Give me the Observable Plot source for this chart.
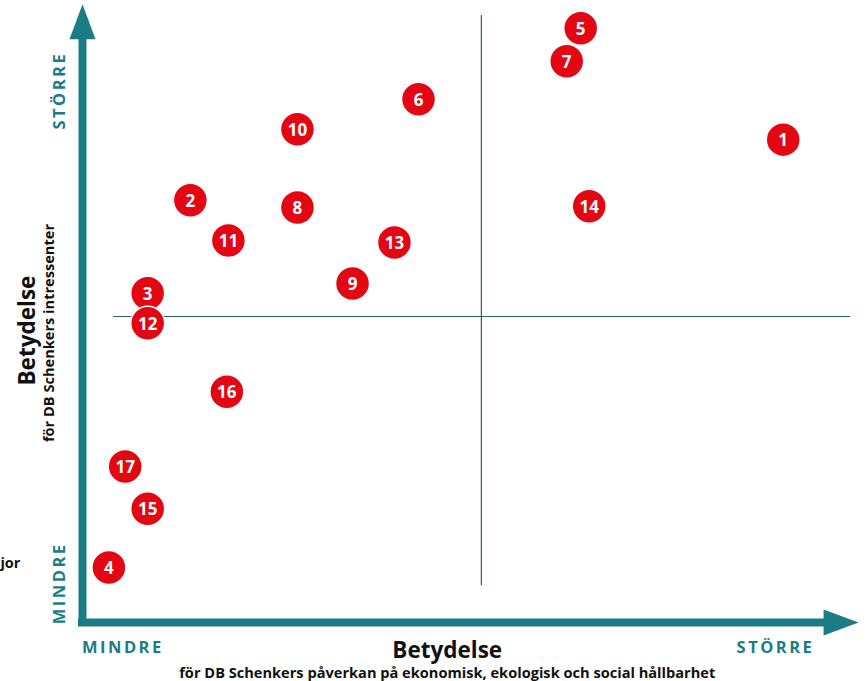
<!DOCTYPE html>
<html>
<head>
<meta charset="utf-8">
<script src="https://cdn.jsdelivr.net/npm/d3@7"></script>
<script src="https://cdn.jsdelivr.net/npm/@observablehq/plot@0.6"></script>
<style>
  html, body { margin: 0; padding: 0; background: #fff; }
  #chart svg { display: block; font-family: "Open Sans", "Noto Sans", sans-serif; }
</style>
</head>
<body>
<div id="chart"></div>
<script>
// Issue numbers and their positions (0–100 on each axis)
const ids = [1, 2, 3, 4, 5, 6, 7, 8, 9, 10, 11, 12, 13, 14, 15, 16, 17];
const impact = [90.3, 13.9, 8.4, 3.4, 64.2, 43.3, 62.4, 27.7, 34.8, 27.7, 18.8, 8.4, 40.2, 65.3, 8.4, 18.6, 5.5];
const stakeholder = [78.9, 69.0, 53.8, 9.0, 97.1, 85.5, 91.7, 67.8, 55.4, 80.6, 62.4, 48.9, 62.1, 68.0, 18.6, 37.7, 25.5];

const lowLabel = "MINDRE";
const highLabel = "STÖRRE";
const titleX = "Betydelse";
const subtitleX = "för DB Schenkers påverkan på ekonomisk, ekologisk och social hållbarhet";
const titleY = "Betydelse";
const subtitleY = "för DB Schenkers intressenter";
const strayText = "jor";

const points = ids.map((id, i) => ({id, x: impact[i], y: stakeholder[i]}));

const teal = "#1a7d85";
const red = "#e30613";
const divider = "#2d5e60";

const arrowHead = {
  draw(ctx) {
    ctx.moveTo(-13, 0);
    ctx.lineTo(0, -35);
    ctx.lineTo(13, 0);
    ctx.closePath();
  }
};

const one = [0];
const chart = Plot.plot({
  width: 868,
  height: 681,
  marginLeft: 82,
  marginRight: 10,
  marginTop: 10,
  marginBottom: 59,
  x: {domain: [0, 100], axis: null},
  y: {domain: [0, 100], axis: null},
  marks: [
    // quadrant dividers
    Plot.ruleX(one, {x: () => 51.4, y1: () => 6.0, y2: () => 99.2, stroke: divider, strokeWidth: 1.2}),
    Plot.ruleY(one, {y: () => 50, x1: () => 4.0, x2: () => 99.0, stroke: divider, strokeWidth: 1.2}),
    // axis arrows
    Plot.ruleX(one, {x: () => 0, y1: () => 0, y2: () => 95.3, stroke: teal, strokeWidth: 8, strokeLinecap: "square"}),
    Plot.ruleY(one, {y: () => 0, x1: () => 0, x2: () => 95.5, stroke: teal, strokeWidth: 8, strokeLinecap: "square"}),
    Plot.dot(one, {x: () => 0, y: () => 95.3, symbol: arrowHead, fill: teal, stroke: null}),
    Plot.dot(one, {x: () => 95.5, y: () => 0, symbol: arrowHead, fill: teal, stroke: null, rotate: 90}),
    // axis end labels
    Plot.text([highLabel], {x: () => -2.9, y: () => 86.9, text: d => d, rotate: -90, fill: teal, fontSize: 16.5, fontWeight: "bold"}),
    Plot.text([lowLabel], {x: () => -2.9, y: () => 6.4, text: d => d, rotate: -90, fill: teal, fontSize: 16.5, fontWeight: "bold"}),
    Plot.text([lowLabel], {x: () => 5.2, y: () => -4.1, text: d => d, fill: teal, fontSize: 16.5, fontWeight: "bold"}),
    Plot.text([highLabel], {x: () => 89.3, y: () => -4.1, text: d => d, fill: teal, fontSize: 16.5, fontWeight: "bold"}),
    // titles
    Plot.text([titleX], {x: () => 47.0, y: () => -4.6, text: d => d, fill: "#111", fontSize: 22.5, fontWeight: "bold"}),
    Plot.text([subtitleX], {x: () => 47.0, y: () => -8.3, text: d => d, fill: "#111", fontSize: 14.6, fontWeight: "bold"}),
    Plot.text([titleY], {x: () => -7.1, y: () => 47.7, text: d => d, rotate: -90, fill: "#111", fontSize: 22.5, fontWeight: "bold"}),
    Plot.text([subtitleY], {x: () => -4.3, y: () => 47.3, text: d => d, rotate: -90, fill: "#111", fontSize: 14.6, fontWeight: "bold"}),
    Plot.text([strayText], {x: () => -8.0, y: () => 9.6, text: d => d, textAnchor: "end", fill: "#111", fontSize: 14.5, fontWeight: "bold"}),
    // issue markers
    Plot.dot(points, {x: "x", y: "y", r: 17, fill: red, stroke: "#fff", strokeWidth: 1.5}),
    Plot.text(points, {x: "x", y: "y", text: "id", fill: "#fff", fontSize: 17, fontWeight: "bold", dy: 1})
  ]
});
chart.querySelectorAll("text").forEach(t => {
  if (t.textContent === lowLabel || t.textContent === highLabel) t.style.letterSpacing = "2.5px";
});
document.getElementById("chart").appendChild(chart);
</script>
</body>
</html>
